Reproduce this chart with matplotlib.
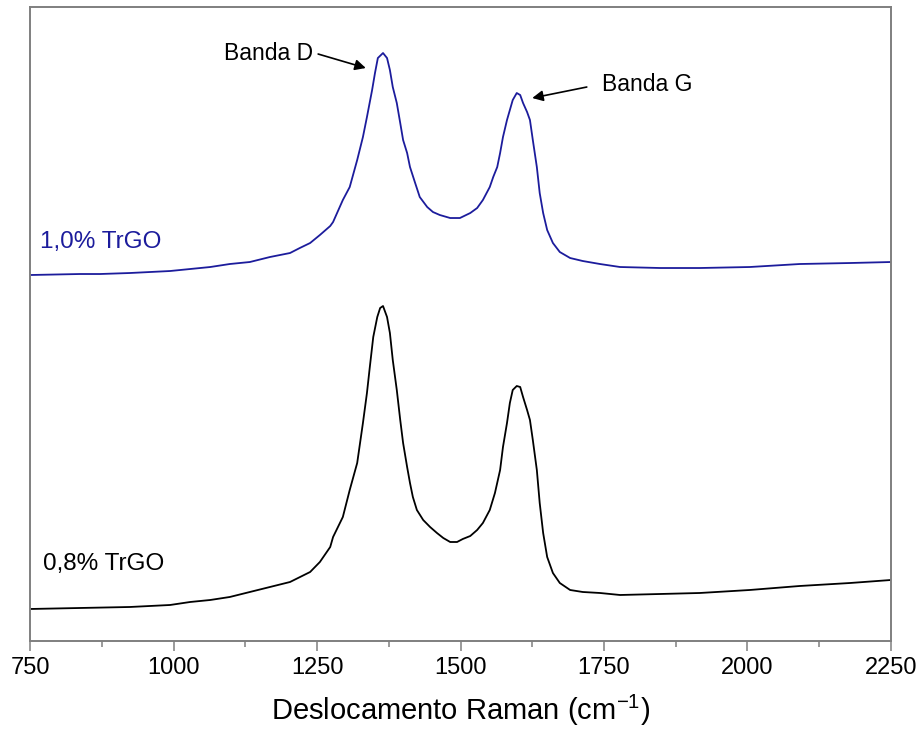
import matplotlib
matplotlib.use("Agg")
import matplotlib.pyplot as plt
from matplotlib.ticker import MultipleLocator

plt.rcParams['font.family'] = ['Liberation Sans', 'DejaVu Sans']

# Raman shift (cm-1) and intensity (a.u.)
wn_10 = [750, 837, 872, 924, 959, 994, 1029, 1064, 1098, 1133, 1168, 1203, 1220,
         1238, 1255, 1273, 1278, 1295, 1307,
         1320, 1330, 1337, 1346, 1351, 1356, 1365, 1372, 1377, 1382, 1389, 1395, 1400,
         1407, 1412, 1421, 1429, 1442, 1452, 1464, 1482, 1499, 1517, 1529, 1539, 1551,
         1557, 1564, 1569, 1574, 1581, 1586, 1591, 1598, 1604, 1609, 1616, 1621, 1626,
         1633, 1638, 1644, 1651, 1661, 1673, 1691, 1713, 1743, 1778, 1848, 1917, 2004,
         2091, 2179, 2250]
int_10 = [366, 367, 367, 368, 369, 370, 372, 374, 377, 379, 384, 388, 393,
          398, 406, 415, 419, 441, 454,
          481, 504, 524, 551, 568, 583, 588, 583, 571, 554, 538, 518, 501,
          488, 474, 458, 444, 434, 429, 426, 423, 423, 428, 433, 441, 454,
          464, 474, 488, 504, 521, 531, 541, 548, 546, 538, 529, 521, 501,
          474, 448, 428, 411, 398, 389, 383, 380, 377, 374, 373, 373, 374,
          377, 378, 379]

wn_08 = [750, 837, 924, 994, 1029, 1064, 1098, 1133, 1168, 1203, 1238, 1255, 1273,
         1278, 1295, 1307, 1320, 1330, 1337, 1342, 1348, 1355, 1360, 1365, 1372, 1377,
         1382, 1389, 1395, 1400, 1407, 1412, 1417, 1424, 1435, 1447, 1459, 1470, 1482,
         1494, 1504, 1517, 1529, 1539, 1551, 1560, 1569, 1574, 1581, 1586, 1591, 1598,
         1604, 1609, 1616, 1621, 1626, 1633, 1638, 1644, 1651, 1661, 1673, 1691, 1713,
         1743, 1778, 1848, 1917, 2004, 2091, 2179, 2250]
int_08 = [32, 33, 34, 36, 39, 41, 44, 49, 54, 59, 69, 79, 94,
          104, 124, 151, 178, 218, 248, 274, 304, 324, 333, 335, 324, 308,
          281, 251, 221, 198, 174, 158, 144, 131, 121, 114, 108, 103, 99,
          99, 102, 105, 111, 118, 131, 148, 171, 194, 218, 238, 251, 255,
          254, 244, 231, 221, 201, 171, 138, 108, 84, 68, 58, 51, 49,
          48, 46, 47, 48, 51, 55, 58, 61]

blue = '#1c1c9c'
gray = '#7f7f7f'

fig = plt.figure(figsize=(9.21, 7.40), dpi=100)
ax = fig.add_axes([0.0326, 0.1338, 0.9348, 0.8567])

ax.plot(wn_10, int_10, color=blue, lw=1.3)
ax.plot(wn_08, int_08, color='black', lw=1.3)

ax.set_xlim(750, 2250)
ax.set_ylim(0, 634)
ax.xaxis.set_major_locator(MultipleLocator(250))
ax.xaxis.set_minor_locator(MultipleLocator(125))
ax.set_yticks([])
ax.tick_params(axis='x', which='major', direction='out', length=7.5, width=1.1,
               color=gray, labelsize=17, pad=4)
ax.tick_params(axis='x', which='minor', direction='out', length=4, width=1.1, color=gray)
for s in ax.spines.values():
    s.set_color(gray)
    s.set_linewidth(1.4)

ax.set_xlabel('Deslocamento Raman (cm$^{\\mathregular{-1}}$)', fontsize=21, labelpad=10)

ax.text(767, 399, '1,0% TrGO', color=blue, fontsize=17.5, va='center', ha='left')
ax.text(773, 77, '0,8% TrGO', color='black', fontsize=17.5, va='center', ha='left')

arrow = dict(arrowstyle='-|>', color='black', lw=1.2, mutation_scale=16,
             shrinkA=0, shrinkB=0)
ax.annotate('', xy=(1335, 573), xytext=(1252, 587), arrowprops=arrow)
ax.text(1243, 588, 'Banda D', fontsize=16.5, va='center', ha='right')
ax.annotate('', xy=(1625, 543), xytext=(1720, 554), arrowprops=arrow)
ax.text(1747, 557, 'Banda G', fontsize=16.5, va='center', ha='left')

fig.savefig('out.png', dpi=100)
